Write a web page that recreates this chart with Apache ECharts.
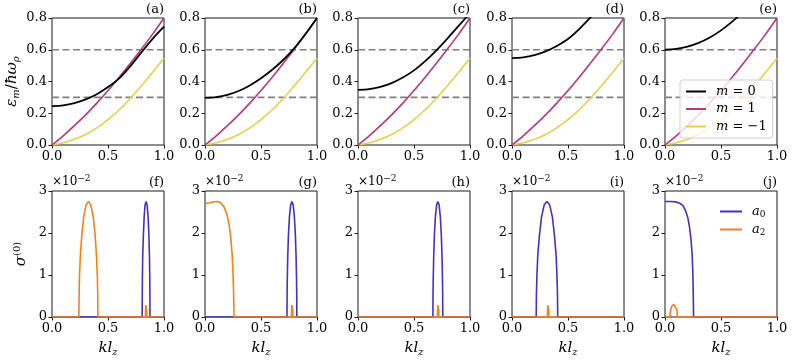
<!DOCTYPE html>
<html>
<head>
<meta charset="utf-8">
<script src="https://cdn.jsdelivr.net/npm/echarts@6/dist/echarts.min.js"></script>
<style>
  html, body { margin: 0; padding: 0; background: #fff; }
  #chart { width: 793px; height: 361px; }
</style>
</head>
<body>
<div id="chart"></div>
<script>
;(function () {
  'use strict'

  // ---- data ----
  // top row: eps_m / hbar omega_rho, sampled on kGrid
  var kGrid = [0, 0.1, 0.2, 0.3, 0.4, 0.5, 0.6, 0.7, 0.8, 0.9, 1.0]
  var mPlus1 = [0, 0.058, 0.122, 0.19, 0.264, 0.343, 0.427, 0.515, 0.606, 0.70, 0.80]
  var mMinus1 = [0, 0.014, 0.036, 0.066, 0.108, 0.16, 0.222, 0.295, 0.375, 0.46, 0.547]
  var m0a = [0.245, 0.25, 0.264, 0.287, 0.32, 0.365, 0.42, 0.497, 0.585, 0.67, 0.745]
  var m0b = [0.297, 0.302, 0.316, 0.34, 0.375, 0.42, 0.474, 0.537, 0.612, 0.702, 0.80]
  var m0c = [0.347, 0.352, 0.366, 0.39, 0.425, 0.47, 0.528, 0.596, 0.672, 0.752, 0.83]
  var m0d = [0.547, 0.552, 0.566, 0.59, 0.624, 0.668, 0.73, 0.803, 0.88]
  var m0e = [0.60, 0.605, 0.619, 0.643, 0.677, 0.722, 0.777, 0.84]
  var m0Panels = [m0a, m0b, m0c, m0d, m0e]
  var dashLevels = [0.3, 0.6]

  // bottom row: sigma^(0) in units of 1e-2, [kl_z, value]
  var a0f = [[0,0],[0.805,0],[0.806,0.55],[0.807,0.94],[0.81,1.46],[0.816,1.95],[0.823,2.39],[0.831,2.67],[0.84,2.75],[0.849,2.67],[0.858,2.39],[0.865,1.95],[0.87,1.46],[0.873,0.94],[0.874,0.55],[0.875,0],[1,0]]
  var a2f = [[0,0],[0.24,0],[0.242,0.55],[0.245,0.94],[0.253,1.46],[0.266,1.95],[0.283,2.39],[0.304,2.67],[0.325,2.75],[0.346,2.67],[0.368,2.39],[0.385,1.95],[0.397,1.46],[0.405,0.94],[0.408,0.55],[0.41,0],[0.834,0],[0.836,0.2],[0.838,0.28],[0.84,0.3],[0.842,0.28],[0.844,0.2],[0.846,0],[1,0]]
  var a0g = [[0,0],[0.732,0],[0.733,0.55],[0.735,0.94],[0.739,1.46],[0.745,1.95],[0.754,2.39],[0.765,2.67],[0.776,2.75],[0.787,2.67],[0.798,2.39],[0.807,1.95],[0.813,1.46],[0.817,0.94],[0.819,0.55],[0.82,0],[1,0]]
  var a2g = [[0,2.70],[0.04,2.72],[0.08,2.745],[0.11,2.75],[0.14,2.72],[0.17,2.62],[0.195,2.45],[0.215,2.2],[0.23,1.9],[0.242,1.5],[0.25,1.05],[0.255,0.6],[0.258,0.2],[0.259,0],[0.772,0],[0.774,0.2],[0.776,0.28],[0.778,0.3],[0.78,0.28],[0.782,0.2],[0.784,0],[1,0]]
  var a0h = [[0,0],[0.669,0],[0.67,0.55],[0.672,0.94],[0.676,1.46],[0.682,1.95],[0.691,2.39],[0.702,2.67],[0.713,2.75],[0.724,2.67],[0.735,2.39],[0.744,1.95],[0.75,1.46],[0.754,0.94],[0.756,0.55],[0.757,0],[1,0]]
  var a2h = [[0,0],[0.709,0],[0.711,0.2],[0.713,0.28],[0.715,0.3],[0.717,0.28],[0.719,0.2],[0.721,0],[1,0]]
  var a0i = [[0,0],[0.216,0],[0.218,0.55],[0.222,0.94],[0.23,1.46],[0.245,1.95],[0.264,2.39],[0.288,2.67],[0.312,2.75],[0.336,2.67],[0.36,2.39],[0.379,1.95],[0.394,1.46],[0.402,0.94],[0.406,0.55],[0.408,0],[1,0]]
  var a2i = [[0,0],[0.316,0],[0.318,0.2],[0.32,0.28],[0.322,0.3],[0.324,0.28],[0.326,0.2],[0.328,0],[1,0]]
  var a0j = [[0,2.75],[0.05,2.75],[0.1,2.74],[0.13,2.71],[0.16,2.65],[0.185,2.52],[0.205,2.35],[0.22,2.12],[0.232,1.85],[0.242,1.5],[0.248,1.1],[0.252,0.6],[0.254,0.2],[0.255,0],[1,0]]
  var a2j = [[0,0],[0.045,0],[0.046,0.1],[0.05,0.18],[0.06,0.26],[0.078,0.3],[0.095,0.26],[0.105,0.18],[0.109,0.1],[0.11,0],[0.772,0],[0.775,0.04],[0.778,0.04],[0.781,0],[1,0]]
  var a0Panels = [a0f, a0g, a0h, a0i, a0j]
  var a2Panels = [a2f, a2g, a2h, a2i, a2j]

  var tagsTop = ['(a)', '(b)', '(c)', '(d)', '(e)']
  var tagsBottom = ['(f)', '(g)', '(h)', '(i)', '(j)']
  var xRange = { min: 0, max: 1, step: 0.5 }
  var yTopRange = { min: 0, max: 0.8, step: 0.2 }
  var yBotRange = { min: 0, max: 3, step: 1 }

  // ---- style ----
  var FONT = 'DejaVu Serif'
  var COLORS = {
    m0: '#000000', m1: '#b73779', mm1: '#e8cf46', dash: '#808080',
    a0: '#4232c0', a2: '#f7801a', frame: '#1a1a1a'
  }
  var COL_LEFT = [52, 205, 358, 512, 665]
  var PANEL_W = 112
  var ROWS = [{ top: 18, height: 127 }, { top: 191, height: 126 }]
  var W = 793

  var RICH = {
    i: { fontFamily: FONT, fontSize: 15, fontStyle: 'italic', lineHeight: 18, verticalAlign: 'middle', color: '#000' },
    n: { fontFamily: FONT, fontSize: 15, lineHeight: 18, verticalAlign: 'middle', color: '#000' },
    s: { fontFamily: FONT, fontSize: 10, fontStyle: 'italic', lineHeight: 11, verticalAlign: 'bottom', color: '#000' },
    su: { fontFamily: FONT, fontSize: 10, lineHeight: 11, verticalAlign: 'top', color: '#000' }
  }

  function pairs(xs, ys) {
    var out = []
    for (var i = 0; i < ys.length; i++) out.push([xs[i], ys[i]])
    return out
  }

  var grids = [], xAxes = [], yAxes = [], series = [], titles = []

  for (var r = 0; r < 2; r++) {
    for (var c = 0; c < 5; c++) {
      var gi = r * 5 + c
      grids.push({
        left: COL_LEFT[c], top: ROWS[r].top, width: PANEL_W, height: ROWS[r].height,
        show: true, borderColor: COLORS.frame, borderWidth: 1,
        backgroundColor: 'transparent', containLabel: false
      })
      xAxes.push({
        gridIndex: gi, type: 'value', min: xRange.min, max: xRange.max, interval: xRange.step,
        axisLine: { show: false },
        axisTick: { show: true, length: 3.5, lineStyle: { color: COLORS.frame, width: 1 } },
        splitLine: { show: false },
        axisLabel: {
          fontFamily: FONT, fontSize: 13, color: '#000', margin: 5,
          formatter: function (v) { return v.toFixed(1) }
        },
        name: r === 1 ? '{i|kl}{s|z}' : '',
        nameLocation: 'middle', nameGap: 22, nameMoveOverlap: false,
        nameTextStyle: { rich: RICH }
      })
      var yr = r === 0 ? yTopRange : yBotRange
      var yName = ''
      if (gi === 0) yName = '{i|ε}{s|m}{n|/}{i|ħω}{s|ρ}'
      if (gi === 5) yName = '{i|σ}{su|(0)}'
      yAxes.push({
        gridIndex: gi, type: 'value', min: yr.min, max: yr.max, interval: yr.step,
        axisLine: { show: false },
        axisTick: { show: true, length: 3.5, lineStyle: { color: COLORS.frame, width: 1 } },
        splitLine: { show: false },
        axisLabel: {
          fontFamily: FONT, fontSize: 13, color: '#000', margin: 5,
          formatter: r === 0 ? function (v) { return v.toFixed(1) } : function (v) { return String(Math.round(v)) }
        },
        name: yName, nameLocation: 'middle', nameRotate: 90,
        nameGap: gi === 0 ? 31 : 22, nameMoveOverlap: false,
        nameTextStyle: { rich: RICH }
      })

      // panel tag
      titles.push({
        text: r === 0 ? tagsTop[c] : tagsBottom[c],
        right: W - (COL_LEFT[c] + PANEL_W), top: ROWS[r].top - 16, padding: 0,
        textStyle: { fontFamily: FONT, fontSize: 13, fontWeight: 'normal', color: '#000', lineHeight: 16 }
      })

      if (r === 0) {
        dashLevels.forEach(function (lv) {
          series.push({
            type: 'line', xAxisIndex: gi, yAxisIndex: gi, symbol: 'none', silent: true, z: 1,
            data: [[xRange.min, lv], [xRange.max, lv]],
            lineStyle: { color: COLORS.dash, width: 1.6, type: [7, 3.5] }
          })
        })
        series.push({
          name: 'm = −1', type: 'line', xAxisIndex: gi, yAxisIndex: gi, symbol: 'none', smooth: 0.3,
          data: pairs(kGrid, mMinus1), lineStyle: { color: COLORS.mm1, width: 1.6 }, itemStyle: { color: COLORS.mm1 }
        })
        series.push({
          name: 'm = 1', type: 'line', xAxisIndex: gi, yAxisIndex: gi, symbol: 'none', smooth: 0.3,
          data: pairs(kGrid, mPlus1), lineStyle: { color: COLORS.m1, width: 1.6 }, itemStyle: { color: COLORS.m1 }
        })
        series.push({
          name: 'm = 0', type: 'line', xAxisIndex: gi, yAxisIndex: gi, symbol: 'none', smooth: 0.3,
          data: pairs(kGrid, m0Panels[c]), lineStyle: { color: COLORS.m0, width: 1.8 }, itemStyle: { color: COLORS.m0 }
        })
      } else {
        titles.push({
          text: '×10{su|−2}', left: COL_LEFT[c], top: ROWS[r].top - 17, padding: 0,
          textStyle: {
            fontFamily: FONT, fontSize: 12, fontWeight: 'normal', color: '#000', lineHeight: 16,
            rich: { su: { fontFamily: FONT, fontSize: 9, lineHeight: 10, verticalAlign: 'top', color: '#000' } }
          }
        })
        series.push({
          name: 'a0', type: 'line', xAxisIndex: gi, yAxisIndex: gi, symbol: 'none',
          data: a0Panels[c], lineStyle: { color: COLORS.a0, width: 1.6 }, itemStyle: { color: COLORS.a0 }
        })
        series.push({
          name: 'a2', type: 'line', xAxisIndex: gi, yAxisIndex: gi, symbol: 'none',
          data: a2Panels[c], lineStyle: { color: COLORS.a2, width: 1.6 }, itemStyle: { color: COLORS.a2 }
        })
      }
    }
  }

  var legendText = {
    fontFamily: FONT, fontSize: 13, color: '#000', lineHeight: 15, padding: [0, 0, 0, 5],
    rich: {
      i: { fontFamily: FONT, fontSize: 13, fontStyle: 'italic', lineHeight: 15, verticalAlign: 'middle', color: '#000' },
      s: { fontFamily: FONT, fontSize: 9, lineHeight: 9, verticalAlign: 'bottom', color: '#000' }
    }
  }

  var option = {
    animation: false,
    backgroundColor: '#fff',
    textStyle: { fontFamily: FONT },
    title: titles,
    grid: grids,
    xAxis: xAxes,
    yAxis: yAxes,
    legend: [
      {
        data: ['m = 0', 'm = 1', 'm = −1'],
        orient: 'vertical', left: 680, top: 80,
        icon: 'rect', itemWidth: 20, itemHeight: 2, itemGap: 2.5,
        padding: [4, 6, 4, 6], selectedMode: false,
        backgroundColor: 'rgba(255,255,255,0.8)', borderColor: '#d0d0d0', borderWidth: 1, borderRadius: 3,
        textStyle: legendText,
        formatter: function (name) { return '{i|m}' + name.slice(1) }
      },
      {
        data: ['a0', 'a2'],
        orient: 'vertical', left: 716, top: 200,
        icon: 'rect', itemWidth: 22, itemHeight: 2, itemGap: 3,
        padding: 4, selectedMode: false,
        textStyle: legendText,
        formatter: function (name) { return '{i|a}{s|' + name.slice(1) + '}' }
      }
    ],
    series: series
  }

  var chart = echarts.init(document.getElementById('chart'))
  chart.setOption(option)
})()
</script>
</body>
</html>
